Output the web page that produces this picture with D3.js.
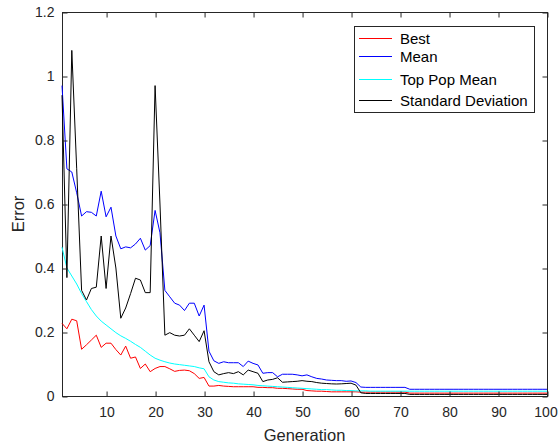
<!DOCTYPE html>
<html>
<head>
<meta charset="utf-8">
<script src="https://cdn.jsdelivr.net/npm/d3@7"></script>
<style>
  html, body { margin: 0; padding: 0; background: #fff; }
  svg { display: block; font-family: "Liberation Sans", Arial, Helvetica, sans-serif; }
</style>
</head>
<body>
<svg id="chart" width="558" height="444"></svg>
<script>
// Error per generation for a 100-generation run
const generations = d3.range(1, 101);

const best = [
  0.227, 0.21, 0.24, 0.235, 0.146, 0.16, 0.175, 0.19, 0.152, 0.165,
  0.165, 0.145, 0.128, 0.156, 0.118, 0.122, 0.086, 0.1, 0.076, 0.086,
  0.092, 0.092, 0.085, 0.077, 0.08, 0.081, 0.079, 0.07, 0.055, 0.058,
  0.031, 0.031, 0.033, 0.031, 0.030, 0.029, 0.029, 0.029, 0.029, 0.029,
  0.027, 0.027, 0.026, 0.026, 0.024, 0.024, 0.023, 0.022, 0.021, 0.021,
  0.017, 0.016, 0.015, 0.015, 0.014, 0.013, 0.013, 0.013, 0.013, 0.013,
  0.013, 0.012, 0.012, 0.012, 0.012, 0.012, 0.012, 0.012, 0.012, 0.012,
  0.012, 0.009, 0.009, 0.009, 0.009, 0.009, 0.009, 0.009, 0.009, 0.009,
  0.009, 0.009, 0.009, 0.009, 0.009, 0.009, 0.009, 0.009, 0.009, 0.009,
  0.009, 0.009, 0.009, 0.009, 0.009, 0.009, 0.009, 0.009, 0.009, 0.009
];

const mean = [
  0.97, 0.71, 0.70, 0.635, 0.5625, 0.576, 0.574, 0.5625, 0.64, 0.56,
  0.59, 0.50, 0.46, 0.466, 0.463, 0.475, 0.493, 0.456, 0.47, 0.58,
  0.51, 0.33, 0.31, 0.29, 0.284, 0.267, 0.29, 0.29, 0.25, 0.284,
  0.14, 0.11, 0.102, 0.107, 0.104, 0.104, 0.104, 0.092, 0.109, 0.102,
  0.097, 0.071, 0.073, 0.073, 0.06, 0.068, 0.068, 0.068, 0.066, 0.063,
  0.066, 0.06, 0.055, 0.053, 0.05, 0.049, 0.048, 0.048, 0.046, 0.047,
  0.042, 0.028, 0.027, 0.027, 0.027, 0.027, 0.027, 0.027, 0.027, 0.027,
  0.027, 0.021, 0.021, 0.021, 0.021, 0.021, 0.021, 0.021, 0.021, 0.021,
  0.021, 0.021, 0.021, 0.021, 0.021, 0.021, 0.021, 0.021, 0.021, 0.021,
  0.021, 0.021, 0.021, 0.021, 0.021, 0.021, 0.021, 0.021, 0.021, 0.021
];

const topPopMean = [
  0.465, 0.40, 0.375, 0.35, 0.32, 0.295, 0.27, 0.25, 0.234, 0.222,
  0.21, 0.198, 0.188, 0.18, 0.171, 0.161, 0.152, 0.14, 0.128, 0.118,
  0.112, 0.107, 0.103, 0.100, 0.098, 0.096, 0.094, 0.092, 0.088, 0.085,
  0.06, 0.05, 0.045, 0.043, 0.041, 0.04, 0.038, 0.037, 0.036, 0.035,
  0.033, 0.032, 0.031, 0.030, 0.029, 0.028, 0.027, 0.026, 0.025, 0.024,
  0.023, 0.022, 0.021, 0.020, 0.020, 0.019, 0.018, 0.018, 0.017, 0.017,
  0.016, 0.016, 0.016, 0.015, 0.015, 0.015, 0.015, 0.015, 0.015, 0.015,
  0.015, 0.015, 0.015, 0.015, 0.015, 0.015, 0.015, 0.015, 0.015, 0.015,
  0.015, 0.015, 0.015, 0.015, 0.015, 0.015, 0.015, 0.015, 0.015, 0.015,
  0.015, 0.015, 0.015, 0.015, 0.015, 0.015, 0.015, 0.015, 0.015, 0.015
];

const stdDev = [
  0.94, 0.37, 1.08, 0.71, 0.33, 0.30, 0.336, 0.34, 0.50, 0.336,
  0.50, 0.40, 0.243, 0.275, 0.32, 0.368, 0.3625, 0.323, 0.323, 0.97,
  0.60, 0.19, 0.198, 0.19, 0.1875, 0.19, 0.21, 0.19, 0.17, 0.204,
  0.107, 0.076, 0.066, 0.07, 0.073, 0.07, 0.076, 0.066, 0.081, 0.076,
  0.071, 0.045, 0.05, 0.052, 0.057, 0.043, 0.044, 0.045, 0.046, 0.048,
  0.046, 0.045, 0.042, 0.04, 0.039, 0.038, 0.0375, 0.038, 0.039, 0.04,
  0.034, 0.01, 0.008, 0.008, 0.008, 0.008, 0.008, 0.008, 0.008, 0.008,
  0.008, 0.005, 0.005, 0.005, 0.005, 0.005, 0.005, 0.005, 0.005, 0.005,
  0.005, 0.005, 0.005, 0.005, 0.005, 0.005, 0.005, 0.005, 0.005, 0.005,
  0.005, 0.005, 0.005, 0.005, 0.005, 0.005, 0.005, 0.005, 0.005, 0.005
];

const seriesNames = ["Best", "Mean", "Top Pop Mean", "Standard Deviation"];
const seriesColors = ["#ff0000", "#0000ff", "#00ffff", "#000000"];
const seriesValues = [best, mean, topPopMean, stdDev];

const xTicks = [10, 20, 30, 40, 50, 60, 70, 80, 90, 100];
const yTicks = [0, 0.2, 0.4, 0.6, 0.8, 1, 1.2];

const axisColor = "#262626";
const svg = d3.select("#chart");

const x = d3.scaleLinear().domain([1, 100]).range([62, 547]);
const y = d3.scaleLinear().domain([0, 1.2]).range([396, 12]);

// plot box
svg.append("rect")
  .attr("x", x.range()[0] + 0.5).attr("y", y.range()[1] + 0.5)
  .attr("width", x.range()[1] - x.range()[0]).attr("height", y.range()[0] - y.range()[1])
  .attr("fill", "#fff").attr("stroke", axisColor).attr("stroke-width", 1);

// data lines
const line = d3.line()
  .x((d, i) => x(generations[i]))
  .y(d => y(d));

seriesValues.forEach((vals, k) => {
  svg.append("path")
    .datum(vals)
    .attr("fill", "none")
    .attr("stroke", seriesColors[k])
    .attr("stroke-width", 1)
    .attr("stroke-linejoin", "round")
    .attr("d", line);
});

// axes with inward ticks on all four sides
function styleAxis(g, showText) {
  g.select(".domain").remove();
  g.selectAll(".tick line").attr("stroke", axisColor);
  g.selectAll(".tick text")
    .attr("fill", axisColor)
    .style("font-size", "14px")
    .style("display", showText ? null : "none");
}

svg.append("g")
  .attr("transform", `translate(0.5,${y.range()[0] + 0.5})`)
  .call(d3.axisBottom(x).tickValues(xTicks).tickFormat(d3.format("d"))
    .tickSizeInner(-5).tickSizeOuter(0).tickPadding(11))
  .call(g => styleAxis(g, true))
  // keep the last label inside the page edge
  .call(g => g.selectAll(".tick text").filter(d => d === 100).attr("dx", -2));

svg.append("g")
  .attr("transform", `translate(0.5,${y.range()[1] + 0.5})`)
  .call(d3.axisTop(x).tickValues(xTicks).tickSizeInner(-5).tickSizeOuter(0))
  .call(g => styleAxis(g, false));

svg.append("g")
  .attr("transform", `translate(${x.range()[0] + 0.5},0.5)`)
  .call(d3.axisLeft(y).tickValues(yTicks).tickFormat(d => String(+d.toFixed(1)))
    .tickSizeInner(-5).tickSizeOuter(0).tickPadding(8))
  .call(g => styleAxis(g, true));

svg.append("g")
  .attr("transform", `translate(${x.range()[1] + 0.5},0.5)`)
  .call(d3.axisRight(y).tickValues(yTicks).tickSizeInner(-5).tickSizeOuter(0))
  .call(g => styleAxis(g, false));

// axis titles
svg.append("text")
  .attr("x", (x.range()[0] + x.range()[1]) / 2)
  .attr("y", 441)
  .attr("text-anchor", "middle")
  .attr("fill", axisColor)
  .style("font-size", "16.5px")
  .text("Generation");

svg.append("text")
  .attr("transform", "translate(24,214) rotate(-90)")
  .attr("text-anchor", "middle")
  .attr("fill", axisColor)
  .style("font-size", "16.5px")
  .text("Error");

// legend
const legend = svg.append("g");
legend.append("rect")
  .attr("x", 354.5).attr("y", 26.5).attr("width", 180).attr("height", 86)
  .attr("fill", "#fff").attr("stroke", axisColor).attr("stroke-width", 1);

const legendY = [38.5, 56.5, 79.5, 100.5];
seriesNames.forEach((name, k) => {
  legend.append("line")
    .attr("x1", 359).attr("x2", 392)
    .attr("y1", legendY[k]).attr("y2", legendY[k])
    .attr("stroke", seriesColors[k]).attr("stroke-width", 1);
  legend.append("text")
    .attr("x", 400).attr("y", legendY[k])
    .attr("dy", "0.35em")
    .attr("fill", "#000")
    .style("font-size", "15px")
    .text(name);
});
</script>
</body>
</html>
